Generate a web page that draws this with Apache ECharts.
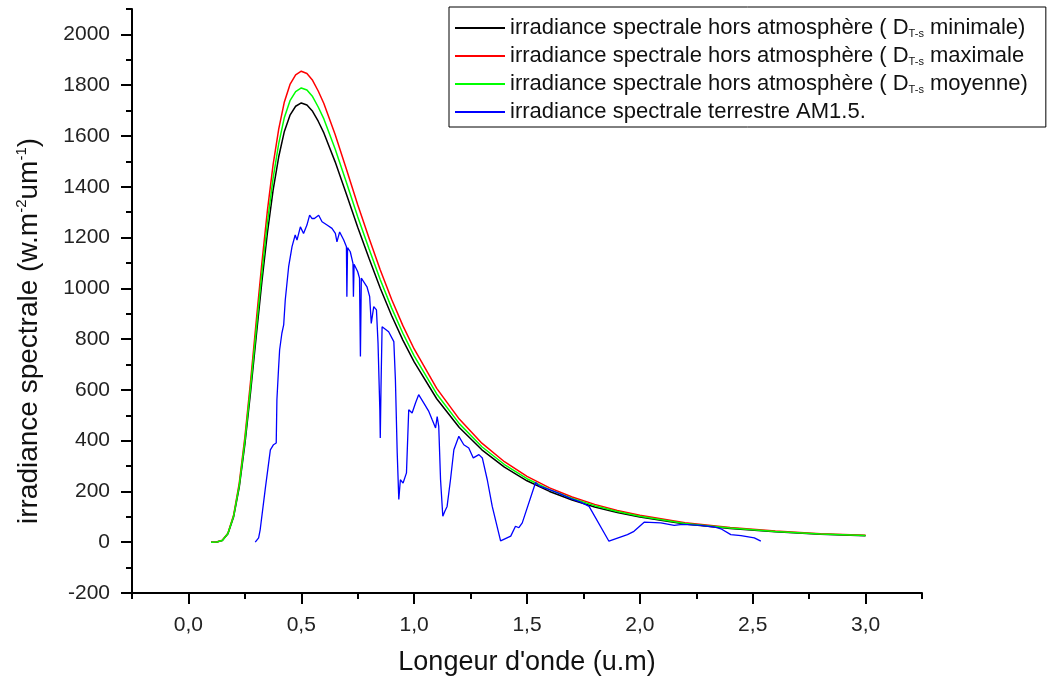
<!DOCTYPE html>
<html>
<head>
<meta charset="utf-8">
<script src="https://cdn.jsdelivr.net/npm/echarts@6/dist/echarts.min.js"></script>
<style>
html,body{margin:0;padding:0;background:#fff;}
#chart{width:1057px;height:684px;}
</style>
</head>
<body>
<div id="chart"></div>
<script>
// ---- data ----
var waveX = [0.10,0.125,0.15,0.175,0.20,0.225,0.25,0.275,0.30,0.325,0.35,0.375,0.40,0.425,0.45,0.475,0.50,0.525,0.55,0.575,0.60,0.65,0.70,0.75,0.80,0.85,0.90,0.95,1.00,1.1,1.2,1.3,1.4,1.5,1.6,1.7,1.8,1.9,2.0,2.2,2.4,2.6,2.8,3.0];
var irrMin = [0,1,7,33,99,216,385,589,808,1022,1219,1386,1518,1618,1682,1717,1730,1722,1697,1658,1612,1498,1370,1240,1118,1000,893,796,710,565,452,364,296,242,200,166,139,117,99,72,54,41,31,25];
var irrMax = [0,1,8,35,106,232,413,631,866,1096,1307,1486,1627,1734,1803,1841,1855,1846,1819,1777,1728,1606,1469,1329,1198,1072,957,853,761,606,485,390,317,259,214,178,149,125,106,77,58,44,33,27];
var irrMoy = [0,1,7,34,102,223,398,609,835,1057,1260,1433,1570,1673,1739,1775,1789,1781,1755,1714,1667,1549,1417,1282,1156,1034,923,823,734,584,467,376,306,250,207,172,144,121,102,74,56,42,32,26];
var am15X = [0.296,0.311,0.318,0.340,0.363,0.377,0.389,0.392,0.399,0.404,0.414,0.422,0.429,0.444,0.459,0.473,0.481,0.496,0.510,0.525,0.537,0.547,0.558,0.577,0.592,0.614,0.636,0.651,0.658,0.670,0.688,0.700,0.702,0.705,0.717,0.729,0.731,0.734,0.740,0.750,0.758,0.762,0.766,0.772,0.791,0.803,0.810,0.821,0.833,0.840,0.848,0.850,0.853,0.858,0.865,0.887,0.910,0.917,0.925,0.932,0.939,0.951,0.966,0.976,0.991,1.006,1.020,1.043,1.065,1.080,1.095,1.102,1.109,1.117,1.127,1.136,1.146,1.161,1.176,1.198,1.220,1.242,1.262,1.287,1.302,1.324,1.346,1.383,1.428,1.449,1.464,1.479,1.538,1.553,1.605,1.642,1.694,1.738,1.775,1.863,1.945,1.974,2.019,2.093,2.152,2.189,2.270,2.329,2.359,2.403,2.448,2.507,2.536];
var am15Y = [0,17,50,207,364,384,391,561,679,757,823,856,954,1085,1164,1210,1190,1242,1216,1249,1288,1275,1275,1288,1262,1249,1236,1216,1183,1222,1190,1164,967,1160,1144,1098,967,1095,1092,1065,1040,731,1040,1033,1006,967,862,928,915,784,522,410,600,849,856,829,790,640,351,168,246,233,273,522,509,548,581,548,515,482,450,495,456,246,102,122,141,246,364,417,384,371,332,345,332,246,141,5,24,63,57,76,235,222,205,192,172,158,141,4,30,43,79,76,66,70,66,60,53,30,26,17,4];

var seriesNames = [
  'irradiance spectrale hors atmosphère ( DT-s minimale)',
  'irradiance spectrale hors atmosphère ( DT-s maximale',
  'irradiance spectrale hors atmosphère ( DT-s moyenne)',
  'irradiance spectrale terrestre AM1.5.'
];
var xMajorTicks = [0,0.5,1.0,1.5,2.0,2.5,3.0];
var xMinorTicks = [-0.25,0.25,0.75,1.25,1.75,2.25,2.75,3.25];
var yMajorTicks = [-200,0,200,400,600,800,1000,1200,1400,1600,1800,2000];
var yMinorTicks = [-100,100,300,500,700,900,1100,1300,1500,1700,1900,2100];
var xAxisTitle = "Longeur d'onde (u.m)";
var yAxisTitle = 'irradiance spectrale (w.m{sup|-2}um{sup|-1})';

function pairs(xs, ys){ var out=[]; for(var i=0;i<xs.length;i++){ out.push([xs[i], ys[i]]); } return out; }

var FONT = "'Liberation Sans', Arial, sans-serif";
var chart = echarts.init(document.getElementById('chart'), null, {renderer:'canvas'});

var axisLineStyle = {color:'#000', width:2};
var option = {
  animation: false,
  backgroundColor: '#fff',
  textStyle: {fontFamily: FONT},
  grid: {left:132, right:135, top:9, bottom:91, containLabel:false, outerBoundsMode:'none'},
  legend: {
    orient: 'vertical',
    left: 449, top: 7,
    padding: [10, 18, 4, 6],
    itemGap: 6,
    itemWidth: 50, itemHeight: 2,
    icon: 'rect',
    borderColor: '#000', borderWidth: 1,
    backgroundColor: '#fff',
    data: seriesNames,
    formatter: function(name){ return name.replace('DT-s', 'D{sub|T-s}'); },
    textStyle: {
      fontFamily: FONT, fontSize: 22, color: '#111', lineHeight: 22,
      rich: {
        sub: {fontFamily: FONT, fontSize: 11, lineHeight: 11, verticalAlign: 'bottom', color:'#111'}
      }
    },
    selectedMode: false
  },
  xAxis: [
    {
      type: 'value', min: -0.25, max: 3.25, position: 'bottom',
      axisLine: {show:true, onZero:false, lineStyle: axisLineStyle},
      axisTick: {show:true, inside:false, length:11, lineStyle:{color:'#000', width:2}, customValues: xMajorTicks},
      axisLabel: {show:true, customValues: xMajorTicks, margin: 22, fontSize: 21, color:'#222', fontFamily: FONT,
        formatter: function(v){ return v.toFixed(1).replace('.', ','); }},
      splitLine: {show:false},
      name: xAxisTitle, nameLocation: 'middle', nameGap: 56,
      nameTextStyle: {fontSize: 27, color:'#111', fontFamily: FONT}
    },
    {
      type: 'value', min: -0.25, max: 3.25, position: 'bottom',
      axisLine: {show:false, onZero:false},
      axisTick: {show:true, inside:false, length:6, lineStyle:{color:'#000', width:2}, customValues: xMinorTicks},
      axisLabel: {show:false},
      splitLine: {show:false}
    }
  ],
  yAxis: [
    {
      type: 'value', min: -200, max: 2100, position: 'left',
      axisLine: {show:true, onZero:false, lineStyle: axisLineStyle},
      axisTick: {show:true, inside:false, length:11, lineStyle:{color:'#000', width:2}, customValues: yMajorTicks},
      axisLabel: {show:true, customValues: yMajorTicks, margin: 22, fontSize: 21, color:'#222', fontFamily: FONT,
        formatter: function(v){ return String(Math.round(v)); }},
      splitLine: {show:false},
      name: yAxisTitle, nameLocation: 'middle', nameGap: 88, nameRotate: 90,
      nameTextStyle: {fontSize: 28, color:'#111', fontFamily: FONT, lineHeight: 30, padding: [0, 60, 0, 0],
        rich: {sup: {fontSize: 15, lineHeight: 15, verticalAlign: 'top', fontFamily: FONT, color:'#111'}}}
    },
    {
      type: 'value', min: -200, max: 2100, position: 'left',
      axisLine: {show:false, onZero:false},
      axisTick: {show:true, inside:false, length:6, lineStyle:{color:'#000', width:2}, customValues: yMinorTicks},
      axisLabel: {show:false},
      splitLine: {show:false}
    }
  ],
  series: [
    {name: seriesNames[0], type:'line', xAxisIndex:0, yAxisIndex:0, data: pairs(waveX, irrMin), showSymbol:false, symbol:'none',
      lineStyle:{color:'#000000', width:1.5}, itemStyle:{color:'#000000'}},
    {name: seriesNames[1], type:'line', xAxisIndex:0, yAxisIndex:0, data: pairs(waveX, irrMax), showSymbol:false, symbol:'none',
      lineStyle:{color:'#ff0000', width:1.5}, itemStyle:{color:'#ff0000'}},
    {name: seriesNames[2], type:'line', xAxisIndex:0, yAxisIndex:0, data: pairs(waveX, irrMoy), showSymbol:false, symbol:'none',
      lineStyle:{color:'#00ff00', width:1.5}, itemStyle:{color:'#00ff00'}},
    {name: seriesNames[3], type:'line', xAxisIndex:0, yAxisIndex:0, data: pairs(am15X, am15Y), showSymbol:false, symbol:'none',
      lineStyle:{color:'#0000ff', width:1.3}, itemStyle:{color:'#0000ff'}}
  ]
};
chart.setOption(option);
</script>
</body>
</html>
